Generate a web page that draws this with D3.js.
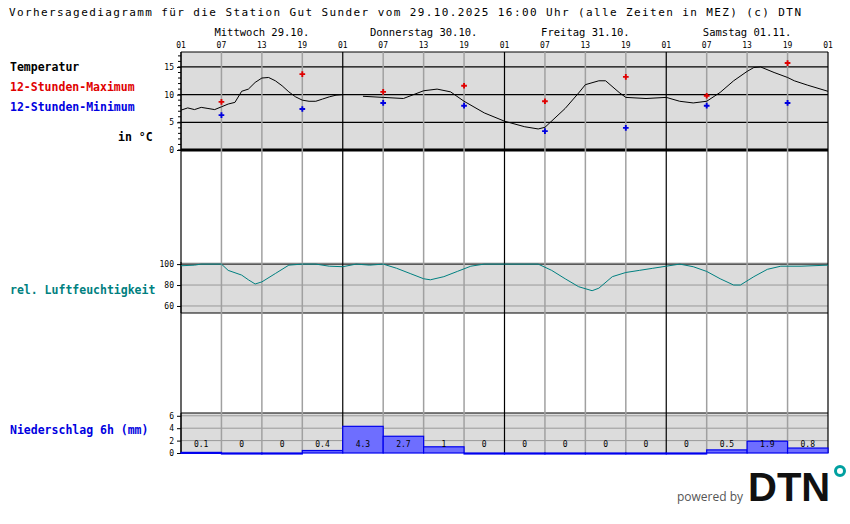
<!DOCTYPE html>
<html><head><meta charset="utf-8">
<script src="https://cdn.jsdelivr.net/npm/d3@7"></script>
<style>body{margin:0;background:#fff}text{font-family:"DejaVu Sans Mono",monospace}</style>
</head><body>
<div id="chart"></div>
<script>
// hours counted from 01:00 Wed 29.10.
var dayLabels = ["Mittwoch 29.10.", "Donnerstag 30.10.", "Freitag 31.10.", "Samstag 01.11."];
var hourLabels = ["01", "07", "13", "19"];

var tempHours = [0,1,2,3,4,5,6,7,8,9,10,11,12,13,14,15,16,17,18,19,20,21,22,23,24,25,27,30,33,36,38,40,42,45,48,51,53,54,57,59,60,62,63,65,66,69,72,74,76,78,80,82,84,85,86,88,90,91,93,96];
var tempVals  = [7.2,7.6,7.3,7.7,7.5,7.3,7.8,8.3,8.6,10.6,11.0,12.2,13.0,13.1,12.5,11.6,10.5,9.6,9.0,8.8,8.8,9.2,9.6,9.9,10.0,null,9.7,9.5,9.3,10.7,11.0,10.5,8.8,6.7,5.2,4.2,3.8,4.1,7.5,10.3,11.8,12.5,12.5,10.4,9.5,9.3,9.5,8.8,8.5,8.8,10.4,12.5,14.2,14.9,15.0,14.0,13.1,12.5,11.7,10.6];

var extHours = [6,18,30,42,54,66,78,90];
var maxVals  = [8.7,13.7,10.5,11.6,8.8,13.2,9.8,15.7];
var minVals  = [6.3,7.4,8.5,8.0,3.4,4.0,8.0,8.5];

var humHours = [0,2,3,6,7,9,10,11,12,14,16,18,20,22,24,26,28,30,32,34,36,37,39,41,43,45,48,51,53,55,57,59,61,62,64,66,68,70,72,74,76,78,80,82,83,85,87,89,92,96];
var humVals  = [98.4,99,100,100,94,89.5,85,81,83,91,99,100,100,98,97.5,100,99,100,96,91,86,85,88,93,98,100,100,100,100,94,86,78.4,74.6,77,88,92,94,96,98,100,97.5,93,86,80,80,88,95,98,98,99];

var rainVals = [0.1,0,0,0.4,4.3,2.7,1,0,0,0,0,0,0,0.5,1.9,0.8];
var rainLabels = ["0.1","0","0","0.4","4.3","2.7","1","0","0","0","0","0","0","0.5","1.9","0.8"];

var W = 850, H = 524, left = 181, right = 828;
var svg = d3.select("#chart").append("svg").attr("width", W).attr("height", H);

var x = d3.scaleLinear().domain([0, 96]).range([left, right]);
var yT = d3.scaleLinear().domain([0, 17.7]).range([150, 52]);
var yH = d3.scaleLinear().domain([53.3, 102]).range([313, 262]);
var yR = d3.scaleLinear().domain([0, 6.45]).range([453, 413]);

// shaded panels
[[52,150],[262,313],[413,453]].forEach(function(p){
  svg.append("rect").attr("x", left).attr("y", p[0]).attr("width", right-left).attr("height", p[1]-p[0]).attr("fill", "#dcdcdc");
});

// horizontal grid
[5,10,15].forEach(function(v){
  svg.append("line").attr("x1", left).attr("x2", right).attr("y1", yT(v)).attr("y2", yT(v)).attr("stroke", "#000").attr("stroke-width", 1.3);
});
svg.append("line").attr("x1", left).attr("x2", right).attr("y1", yT(0)).attr("y2", yT(0)).attr("stroke", "#000").attr("stroke-width", 3);
svg.append("line").attr("x1", left).attr("x2", right).attr("y1", 52).attr("y2", 52).attr("stroke", "#000");
[80,60].forEach(function(v){
  svg.append("line").attr("x1", left).attr("x2", right).attr("y1", yH(v)).attr("y2", yH(v)).attr("stroke", "#999");
});
svg.append("line").attr("x1", left).attr("x2", right).attr("y1", yH(100)).attr("y2", yH(100)).attr("stroke", "#000");
svg.append("line").attr("x1", left).attr("x2", right).attr("y1", 313).attr("y2", 313).attr("stroke", "#000");
[2,4,6].forEach(function(v){
  svg.append("line").attr("x1", left).attr("x2", right).attr("y1", yR(v)).attr("y2", yR(v)).attr("stroke", "#999");
});
svg.append("line").attr("x1", left).attr("x2", right).attr("y1", 413).attr("y2", 413).attr("stroke", "#000");

// vertical grid
d3.range(0, 97, 6).forEach(function(h){
  var day = h % 24 === 0;
  svg.append("line").attr("x1", x(h)).attr("x2", x(h)).attr("y1", 52).attr("y2", 453)
    .attr("stroke", day ? "#000" : "#a0a0a0").attr("stroke-width", day ? 1.2 : 1.5);
  svg.append("text").attr("x", x(h)).attr("y", 48).attr("text-anchor", "middle")
    .attr("font-size", 8).text(hourLabels[(h/6) % 4]);
});
dayLabels.forEach(function(d, i){
  svg.append("text").attr("x", x(i*24+12)).attr("y", 36).attr("text-anchor", "middle").attr("font-size", 10.5).text(d);
});

// y axes
function axis(scale, ticks, minor, y0, y1){
  var g = svg.append("g").attr("transform", "translate(" + left + ",0)");
  g.call(d3.axisLeft(scale).tickValues(ticks).tickSize(4).tickFormat(d3.format("d")));
  g.selectAll("text").attr("font-size", 8).attr("font-family", "DejaVu Sans Mono");
  g.select(".domain").remove();
  if (minor) g.selectAll(".minor").data(minor).enter().append("line")
      .attr("x1", -3).attr("x2", 0).attr("y1", scale).attr("y2", scale).attr("stroke", "#000");
  g.append("line").attr("y1", y0).attr("y2", y1).attr("stroke", "#000");
}
axis(yT, [0,5,10,15], d3.range(0,18,1), 52, 150);
axis(yH, [60,80,100], null, 262, 313);
axis(yR, [0,2,4,6], null, 413, 453);

// temperature line
svg.append("path").datum(tempHours.map(function(h,i){ return [h, tempVals[i]]; }))
  .attr("fill", "none").attr("stroke", "#000").attr("stroke-width", 1)
  .attr("d", d3.line().defined(function(d){ return d[1] !== null; }).x(function(d){ return x(d[0]); }).y(function(d){ return yT(d[1]); }));

function markers(vals, color){
  svg.selectAll(null).data(vals).enter().append("path")
    .attr("d", d3.symbol().type(d3.symbolCross).size(18))
    .attr("transform", function(d,i){ return "translate(" + x(extHours[i]) + "," + yT(d) + ")"; })
    .attr("fill", color);
}
markers(maxVals, "#e00000");
markers(minVals, "#0000e0");

// humidity
svg.append("path").datum(humHours.map(function(h,i){ return [h, humVals[i]]; }))
  .attr("fill", "none").attr("stroke", "#008080").attr("stroke-width", 1)
  .attr("d", d3.line().x(function(d){ return x(d[0]); }).y(function(d){ return yH(d[1]); }));

// precipitation
svg.selectAll(".bar").data(rainVals).enter().append("rect")
  .attr("x", function(d,i){ return x(i*6); })
  .attr("width", x(6) - x(0))
  .attr("y", function(d){ return yR(d); })
  .attr("height", function(d){ return Math.max(1, yR(0) - yR(d)); })
  .attr("fill", "#6e6eff").attr("stroke", "#0000ee").attr("stroke-width", 1.2);
svg.selectAll(".rl").data(rainLabels).enter().append("text")
  .attr("x", function(d,i){ return x(i*6+3); }).attr("y", 447)
  .attr("text-anchor", "middle").attr("font-size", 8).text(function(d){ return d; });

// texts
svg.append("text").attr("x", 9).attr("y", 16).attr("font-size", 11)
  .attr("textLength", 792).attr("lengthAdjust", "spacing")
  .text("Vorhersagediagramm für die Station Gut Sunder vom 29.10.2025 16:00 Uhr (alle Zeiten in MEZ)   (c) DTN");
var lab = [["Temperatur", 10, 71, "#000"], ["12-Stunden-Maximum", 10, 91, "#e00000"], ["12-Stunden-Minimum", 10, 111, "#0000e0"],
  ["in °C", 118, 141, "#000"], ["rel. Luftfeuchtigkeit", 10, 294, "#008080"], ["Niederschlag 6h (mm)", 10, 434, "#0000e0"]];
lab.forEach(function(l){
  svg.append("text").attr("x", l[1]).attr("y", l[2]).attr("font-size", 11.5).attr("font-weight", "bold").attr("fill", l[3]).text(l[0]);
});

// logo
svg.append("text").attr("x", 677).attr("y", 501).attr("font-size", 12).attr("fill", "#555").style("font-family", "Open Sans").text("powered by");
svg.append("text").attr("x", 748).attr("y", 501).attr("font-size", 40).attr("font-weight", "bold").style("font-family", "Liberation Sans").attr("fill", "#111").text("DTN");
svg.append("circle").attr("cx", 840).attr("cy", 471).attr("r", 4.5).attr("fill", "none").attr("stroke", "#00a0a0").attr("stroke-width", 3);
</script>
</body></html>
